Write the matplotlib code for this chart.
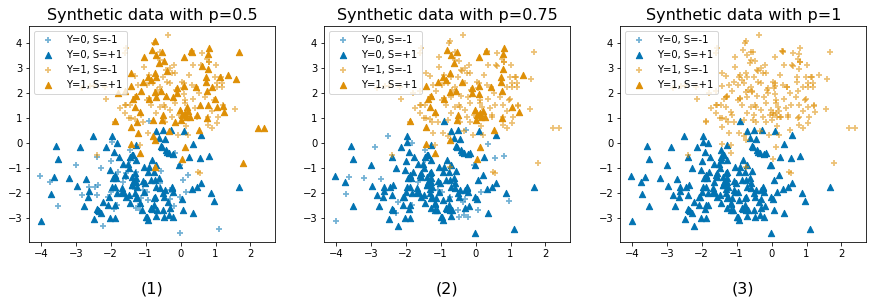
import matplotlib

matplotlib.use("Agg")
import matplotlib.pyplot as plt
import numpy as np

BLUE = "#0173b2"
ORANGE = "#de8f05"

titles = ["Synthetic data with p=0.5", "Synthetic data with p=0.75", "Synthetic data with p=1"]
captions = ["(1)", "(2)", "(3)"]
legend_labels = ["Y=0, S=-1", "Y=0, S=+1", "Y=1, S=-1", "Y=1, S=+1"]
axes_left_px = [29.3, 324.3, 620.3]

# Y=0 points, grouped by their S value in panels 1 and 2 (panel 3 has all of them S=+1)
y0_pos_pos = [
    (-3.56, -0.09), (-3.50, -0.61), (-2.66, -2.13), (-2.76, -2.49), (-2.96, -1.71),
    (-2.61, -1.92), (-2.39, -2.63), (-2.49, -3.01), (-2.08, -2.45), (-2.01, -2.99),
    (-1.89, -2.99), (-1.96, 0.31), (-2.13, -0.15), (-1.90, -0.35), (-1.77, -0.55),
    (-2.03, -1.08), (-1.93, -1.37), (-1.86, -1.40), (-1.95, -1.73), (-1.68, -1.93),
    (-1.82, -2.00), (-1.62, -2.00), (-1.44, -2.37), (-1.55, -2.13), (-1.64, -0.84),
    (-1.51, -0.83), (-1.44, -0.53), (-1.36, -0.47), (-1.29, -0.67), (-1.28, -0.05),
    (-1.40, -1.33), (-1.31, -1.20), (-1.35, -1.53), (-1.40, -1.67), (-1.26, -1.73),
    (-1.31, -2.00), (-1.24, -2.13), (-1.04, -0.93), (-0.93, -1.13), (-0.82, -0.67),
    (-0.69, -0.87), (-1.07, -1.51), (-0.86, -1.47), (-0.61, -1.40), (-0.69, -1.73),
    (-0.97, -2.93), (-0.93, -3.07), (-0.83, -2.63), (-0.69, -2.91), (-0.50, -2.00),
    (-0.45, -1.87), (-0.26, -1.73), (-0.21, -1.93), (0.03, -2.23), (0.34, -1.81),
    (0.48, -1.73), (0.57, -1.57), (0.36, -2.80), (0.87, -1.97), (1.68, -1.73),
    (0.25, -0.53), (0.57, 0.33), (0.10, 0.48), (-0.50, 0.52), (-0.70, 0.51),
    (-0.63, 0.20), (-0.56, -0.11), (-0.45, 0.16), (-0.43, -0.27), (-0.33, -0.37),
    (-0.21, -0.44), (-1.10, -2.68), (-0.75, -2.45),
    (-1.87, -1.27), (-1.58, -1.27), (-1.29, -1.40), (-1.01, -1.60), (-0.72, -1.47),
    (-0.58, -1.80), (-0.24, -1.80), (-0.48, -2.13), (-0.67, -2.67), (-0.86, -2.60),
    (-1.00, -2.93), (-1.15, -2.40), (-1.29, -2.20), (-1.49, -2.07), (-1.68, -1.80),
    (-1.87, -1.73), (-2.06, -2.13), (-1.87, -2.47), (-2.35, -2.67), (-1.49, -1.00),
    (-1.39, -0.47), (-0.91, -0.93), (-0.77, -1.13), (-0.53, -0.13), (-0.38, -0.33),
    (-1.29, -1.53), (-1.05, -1.93), (-0.77, -2.20), (-0.29, -2.60), (-1.39, -1.67),
]
y0_pos_neg = [
    (-2.52, 0.31), (-2.87, -0.15), (-3.62, -1.35), (-3.19, -1.37), (-2.70, -1.41),
    (-3.70, -2.01), (-3.99, -3.09), (-1.82, 0.01), (-2.21, -2.33), (-2.34, -2.69),
    (-2.28, -2.80), (-0.73, -2.13), (-0.32, -2.87), (-0.21, -2.96), (-0.48, -2.93),
    (-0.50, -2.67), (0.08, -2.67), (0.96, -2.29), (0.82, -0.51), (0.56, -0.57),
    (0.36, -0.03), (-0.28, 0.52), (-0.04, -0.87), (-0.35, -2.33),
]
y0_neg_pos = [
    (-4.03, -1.29), (-3.74, -1.53), (-3.52, -2.51), (-3.00, -0.85), (-2.83, -2.07),
    (-2.61, -1.73), (-2.45, -1.73), (-2.36, -1.67), (-2.38, -2.07), (-2.38, -0.53),
    (-2.28, -0.97), (-1.99, -0.71), (-2.07, -2.13), (-1.98, -1.93), (-1.91, -2.63),
    (-2.21, -3.31), (-1.95, 0.07), (-1.78, -1.13), (-1.56, -1.17), (-1.56, -1.33),
    (-1.29, -1.13), (-1.28, -2.60), (-1.16, -2.43), (-1.16, -2.67), (-1.12, -2.20),
    (-0.94, -2.27), (-0.73, -2.67), (-0.57, -1.09), (-0.59, -1.60), (-1.31, -1.84),
    (-0.29, -1.87), (-0.19, -2.49), (-0.01, -3.57), (1.10, -3.41), (-0.02, -2.16),
    (0.06, -1.47), (0.20, -1.25), (-0.02, -0.87), (-0.90, 0.91), (-0.16, -0.37),
]
y0_neg_neg = [
    (-1.46, -0.27), (-1.46, -0.67), (-1.65, -1.53), (-0.97, -1.93), (-0.31, -2.24),
    (0.15, -1.93), (-1.83, -2.47), (-1.07, -1.87),
]

# Y=1 points, grouped the same way (panel 3 has all of them S=-1)
y1_pos_pos = [
    (-0.81, 3.72), (-0.69, 3.53), (-0.54, 3.64), (-0.63, 3.23), (-0.72, 2.83),
    (-0.92, 2.67), (-1.07, 2.47), (-1.43, 2.29), (-1.27, 1.91), (-1.36, 1.77),
    (-0.91, 1.76), (-0.73, 2.07), (-0.11, 2.20), (0.10, 2.29), (0.10, 3.44),
    (0.31, 3.69), (0.80, 3.83), (0.79, 3.57), (0.79, 2.97), (0.72, 2.67),
    (0.74, 2.44), (0.76, 2.11), (0.44, 2.24), (1.36, 2.75), (1.03, 1.47),
    (1.23, 1.27), (0.76, 1.00), (0.53, 0.53), (-0.02, 1.33), (0.01, 0.93),
    (0.12, 1.20), (0.27, 1.07), (-0.50, 1.13), (-0.54, 0.93), (-1.17, 1.27),
    (-1.42, 0.67), (-1.88, 0.91), (-0.73, 0.13), (-1.42, -0.04), (-1.15, -0.40),
    (0.05, -0.64), (0.12, -0.13), (-1.31, 1.47),
    (0.20, 1.30), (0.05, 1.15), (-0.85, 2.55), (-0.55, 2.10), (-0.10, 2.00), (0.15, 1.05),
]
y1_pos_neg = [
    (-0.73, 4.11), (-1.04, 3.47), (-0.47, 3.31), (0.34, 3.67), (1.66, 3.64),
    (0.62, 3.08), (0.90, 2.27), (1.13, 2.67), (1.59, 2.59), (-1.43, 2.83),
    (-0.40, 2.88), (-0.69, 2.67), (-1.78, 2.00), (-1.59, 2.11), (-1.14, 2.11),
    (-0.69, 1.87), (-0.43, 1.89), (-0.21, 1.87), (-1.24, 0.87), (-0.78, 0.93),
    (-1.21, 0.40), (-0.78, 0.29), (-0.73, -0.93), (-0.32, 0.51), (-0.16, 0.87),
    (0.17, 1.47), (0.46, 1.13), (0.79, 1.53), (0.55, 1.53), (0.98, 1.76),
    (1.22, 1.49), (2.22, 0.60), (2.40, 0.60), (1.79, -0.77),
]
y1_neg_pos = [(-0.39, 2.44), (0.10, 1.97)]
y1_neg_neg = [
    (-0.37, 4.33), (-1.55, 3.80), (-1.59, 3.63), (-2.81, 2.23), (-2.58, 2.29),
    (-2.47, 2.29), (-2.17, 2.24), (-2.14, 1.79), (-1.74, 1.43), (-1.56, 1.53),
    (-1.45, 1.53), (-1.43, 1.00), (-1.31, 0.96), (-1.07, 0.87), (-1.12, 1.13),
    (-0.93, 0.40), (-1.31, 2.69), (-1.23, 2.33), (-0.05, 1.13), (-0.45, 1.47),
    (-0.31, 3.00), (-0.16, 2.83), (-0.31, 2.40), (0.05, 2.47), (0.06, 2.20),
    (0.34, 2.33), (0.52, 2.00), (0.62, 3.63), (0.76, 3.36), (0.82, 3.27),
    (1.01, 3.15), (0.98, 2.67), (1.03, 2.40), (1.19, 2.40), (1.19, 2.24),
    (1.03, 2.24), (1.57, 1.39), (1.08, 1.07), (1.03, 0.83), (0.79, 0.72),
    (0.91, 0.60), (0.36, 1.76), (-0.07, 0.33), (0.22, 0.33), (-0.45, 0.87),
    (-0.69, 1.20), (-0.59, 1.47), (-0.16, 1.60), (0.12, 1.73), (-0.78, 2.40),
    (-0.97, 2.33), (0.51, -1.13), (0.55, -1.20), (-2.40, -0.47), (-1.16, -0.07),
    (-0.55, 2.05), (-0.50, 2.65), (-0.20, 3.15), (0.25, 2.75), (-0.85, 1.55),
    (-0.25, 1.05), (0.40, 1.40), (0.70, 1.85), (0.15, 0.70), (-1.60, 1.20),
    (-1.30, 1.85), (-1.05, 3.05), (-0.60, 3.35), (0.35, 3.15), (0.90, 1.30),
    (-0.91, 1.80), (-0.48, 1.53), (-0.29, 1.33), (-0.14, 2.13), (0.43, 2.27),
    (0.24, 1.07), (0.77, 1.07), (0.05, 1.20), (-0.67, 2.13), (-0.43, 2.93),
    (-0.91, 2.73), (-0.77, 4.00), (-0.58, 3.67), (0.10, 2.40), (0.58, 3.13),
    (0.81, 3.27), (1.15, 2.67), (0.96, 1.73), (1.20, 1.53), (-1.49, 1.00),
    (-1.29, 1.87), (-1.58, 1.53), (-1.87, 0.87), (0.48, 1.07), (0.14, 1.60),
    (-0.58, 2.27), (-0.24, 2.80), (0.34, 3.71), (-0.96, 1.73),
]


def split_panels():
    """Return (y0_neg, y0_pos, y1_neg, y1_pos) point lists for each of the three panels."""
    return [
        (y0_neg_pos + y0_neg_neg, y0_pos_pos + y0_pos_neg,
         y1_neg_pos + y1_neg_neg, y1_pos_pos + y1_pos_neg),
        (y0_pos_neg + y0_neg_neg, y0_pos_pos + y0_neg_pos,
         y1_pos_neg + y1_neg_neg, y1_pos_pos + y1_neg_pos),
        ([], y0_pos_pos + y0_pos_neg + y0_neg_pos + y0_neg_neg,
         y1_pos_pos + y1_pos_neg + y1_neg_pos + y1_neg_neg, []),
    ]


def scatter(ax, points, marker, color, alpha, label):
    pts = np.array(points).reshape(-1, 2)
    ax.scatter(pts[:, 0], pts[:, 1], marker=marker, c=color, s=40, alpha=alpha,
               linewidths=1.8 if marker == "+" else None, label=label)


W, H = 873, 303
fig = plt.figure(figsize=(W / 72, H / 72), dpi=72)
for i, groups in enumerate(split_panels()):
    ax = fig.add_axes([axes_left_px[i] / W, 1 - 242.3 / H, 246 / W, 216.6 / H])
    y0_neg, y0_pos, y1_neg, y1_pos = groups
    scatter(ax, y0_neg, "+", BLUE, 0.55, legend_labels[0])
    scatter(ax, y0_pos, "^", BLUE, 1, legend_labels[1])
    scatter(ax, y1_neg, "+", ORANGE, 0.55, legend_labels[2])
    scatter(ax, y1_pos, "^", ORANGE, 1, legend_labels[3])
    ax.set_xlim(-4.33, 2.71)
    ax.set_ylim(-3.96, 4.71)
    ax.set_xticks([-4, -3, -2, -1, 0, 1, 2])
    ax.set_yticks([-3, -2, -1, 0, 1, 2, 3, 4])
    ax.set_title(titles[i], fontsize=16)
    ax.set_xlabel(captions[i], fontsize=16, labelpad=22)
    ax.legend(loc="upper left")

fig.savefig("out.png", dpi=72)
